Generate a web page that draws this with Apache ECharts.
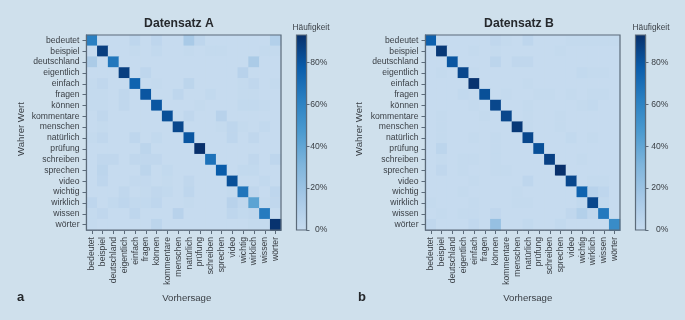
<!DOCTYPE html>
<html><head><meta charset="utf-8">
<style>html,body{margin:0;padding:0;background:#cfe0ec}#c{width:685px;height:320px}</style>
<script src="https://cdn.jsdelivr.net/npm/echarts@6/dist/echarts.min.js"></script>
</head><body><div id="c"></div>
<script>
const categories = ['bedeutet','beispiel','deutschland','eigentlich','einfach','fragen','können','kommentare','menschen','natürlich','prüfung','schreiben','sprechen','video','wichtig','wirklich','wissen','wörter'];
const matrixA = [
 [62,0,0,0,4,0,4,0,0,14,4,0,0,0,0,0,0,9],
 [0,88,0,0,1,0,2,0,0,1,0,1,1,0,0,0,1,1],
 [13,0,66,0,0,0,0,0,0,0,0,0,0,0,0,13,0,0],
 [0,0,0,88,0,4,0,0,0,0,0,0,0,0,7,0,0,0],
 [1,3,0,0,75,0,1,0,0,5,0,0,0,0,1,3,0,1],
 [1,1,0,3,0,80,0,0,4,0,0,2,0,0,1,1,0,0],
 [1,1,0,3,0,0,80,0,0,0,1,0,0,0,2,2,1,0],
 [0,3,0,0,0,0,0,82,0,3,0,0,7,0,0,0,0,0],
 [0,1,0,0,0,0,0,0,85,0,0,0,1,4,1,0,2,0],
 [1,3,0,0,4,0,2,0,0,80,0,0,0,4,0,3,0,0],
 [0,0,0,0,0,5,0,0,0,0,93,0,0,0,0,0,0,0],
 [0,3,3,0,3,3,3,0,0,0,0,68,0,0,0,3,0,4],
 [0,5,0,0,0,5,0,2,0,0,0,0,78,0,2,2,0,0],
 [0,4,0,0,1.5,1.5,0,1,0,3,0,0,0,82,0,0,2,0],
 [0,0,0,3,0,1,3,2,0,4,0,0,0,1,67,3,0,4],
 [4,0,2,4,2,2,4,0,0,1,0,0,0,7,3,42,1,3],
 [1,3,0,0,4,0,0,0,7,0,0,0,0,4,2,3,64,0],
 [1,0,0,0,0,0,5,0,0,0,0,0,0,0,0,1,1,92]
];
const matrixB = [
 [76,0,0,0,0,0,3,1,0,4,0,0,0,1,1,1,1,1],
 [0,90,0,0,1,0,1,0,0,0,0,0,1,0,0,0,0,0],
 [0,0,80,0,0,0,5,0,3,3,0,0,0,0,0,0,0,0],
 [0,1,0,85,1,0,0,0,0,0,0,0,0,0,2,1,1,0],
 [0,0,0,0,92,0,0,0,0,1,0,0,0,0,0,0,0,0],
 [0,0,0,2,1,82,0,1,0,0,1,1,0,1,0,1,1,0],
 [0,0,0,0,1,0,85,0,0,1,0,0,0,0,1,2,0,0],
 [0,1,0,0,0,1,0,85,0,1,0,0,1,0,0,0,0,0],
 [0,1,0,0,0,0,0,0,90,1,0,0,1,0,0,0,0,0],
 [0,1,0,0,1,0,1,0,0,85,0,0,0,2,0,1,0,0],
 [0,5,0,0,0,0,1,0,0,0,82,0,0,0,0,0,0,0],
 [0,1,0,1,1,0,1,0,0,0,0,87,0,0,1,0,0,0],
 [0,3,0,1,0,0,1,1,0,0,0,0,93,0,0,0,0,0],
 [0,0,0,0,1,0,0,0,0,4,0,0,0,85,0,1,1,0],
 [0,0,0,1,0,0,0,0,1,0,0,0,0,0,75,7,4,0],
 [1,0,0,0,1,0,0,0,1,1,0,0,0,0,2,85,2,0],
 [0,1,0,1,1,0,3,0,0,0,0,0,0,3,9,3,65,0],
 [3,0,0,0,2.5,0,22,0,0,2,0,0,2,0,0,0,0,55]
];
const colorTicks = [0,20,40,60,80];
const colorMax = 93;
const blues = ['#c6dbef','#a6c8e6','#7fb5dc','#4c9bd0','#2a80c2','#0a5dab','#08306b'];

const cells = m => m.flatMap((row,r)=>row.map((v,c)=>[c,r,v]));
const border = '#5c6b7a', txt = '#3a3f45', lab = {fontFamily:'Liberation Sans',fontSize:8.6,color:txt};
const line = {show:true,onZero:false,lineStyle:{color:border,width:1.2}};
const PANELS = [{left:86.5,cb:296.5,name:'Datensatz A',tag:'a',tx:179,hx:311,tagx:17,data:matrixA,nameGap:60,lblM:21,xPad:6},
                {left:425.5,cb:635.5,name:'Datensatz B',tag:'b',tx:519,hx:651,tagx:358,data:matrixB,nameGap:61,lblM:23,xPad:10}];
const grid=[],xAxis=[],yAxis=[],series=[],title=[];
PANELS.forEach((p,i)=>{
  grid.push({left:p.left,top:35,width:194.5,height:195,show:true,z:5,borderColor:border,borderWidth:1.2,backgroundColor:'transparent'});
  xAxis.push({type:'category',gridIndex:i*2,position:'bottom',data:categories,name:'Vorhersage',nameLocation:'middle',nameGap:63,
    nameTextStyle:{...lab,fontSize:9.6,padding:[0,0,0,p.xPad]},
    axisLine:line,axisTick:{show:true,alignWithLabel:true,length:4,lineStyle:{color:border}},
    splitArea:{show:false},splitLine:{show:false},
    axisLabel:{...lab,rotate:90,interval:0,margin:7}});
  yAxis.push({type:'category',gridIndex:i*2,position:'left',inverse:true,data:categories,name:'Wahrer Wert',nameLocation:'middle',nameGap:p.nameGap,
    nameTextStyle:{...lab,fontSize:9.6,padding:[0,0,0,7]},
    axisLine:line,axisTick:{show:true,alignWithLabel:true,length:4,lineStyle:{color:border}},
    splitArea:{show:false},splitLine:{show:false},
    axisLabel:{...lab,interval:0,margin:7}});
  series.push({type:'heatmap',xAxisIndex:i*2,yAxisIndex:i*2,data:cells(p.data),itemStyle:{borderWidth:0},emphasis:{disabled:true},progressive:0,animation:false});
  // colour bar
  grid.push({left:p.cb,top:35,width:10,height:195,show:true,z:5,borderColor:border,borderWidth:1.2,backgroundColor:'transparent'});
  xAxis.push({type:'category',gridIndex:i*2+1,data:['Häufigkeit'],show:false});
  yAxis.push({type:'value',gridIndex:i*2+1,position:'right',min:0,max:colorMax,splitLine:{show:false},
    axisLine:line,
    axisTick:{show:true,customValues:colorTicks,length:3,lineStyle:{color:border}},
    axisLabel:{...lab,customValues:colorTicks,align:'right',margin:p.lblM,formatter:'{value}%'}});
  series.push({type:'bar',xAxisIndex:i*2+1,yAxisIndex:i*2+1,data:[colorMax],barWidth:'100%',silent:true,animation:false,
    itemStyle:{color:{type:'linear',x:0,y:1,x2:0,y2:0,colorStops:blues.map((c,k)=>({offset:k/(blues.length-1),color:c}))}}});
  title.push({text:p.name,left:p.tx,top:18,padding:0,textAlign:'center',textStyle:{fontFamily:'Liberation Sans',fontSize:12.2,fontWeight:'bold',color:'#26292d'}});
  title.push({text:'Häufigkeit',left:p.hx,top:24,padding:0,textAlign:'center',textStyle:{...lab,fontSize:8.3,fontWeight:'normal'}});
  title.push({text:p.tag,left:p.tagx,top:291,padding:0,textStyle:{fontFamily:'Liberation Sans',fontSize:13,fontWeight:'bold',color:'#26292d'}});
});
const chart=echarts.init(document.getElementById('c'),null,{renderer:'canvas'});
chart.setOption({backgroundColor:'#cfe0ec',animation:false,title,grid,xAxis,yAxis,series,
  visualMap:[{show:false,type:'continuous',seriesIndex:[0,2],min:0,max:colorMax,inRange:{color:blues}}]});
</script></body></html>
